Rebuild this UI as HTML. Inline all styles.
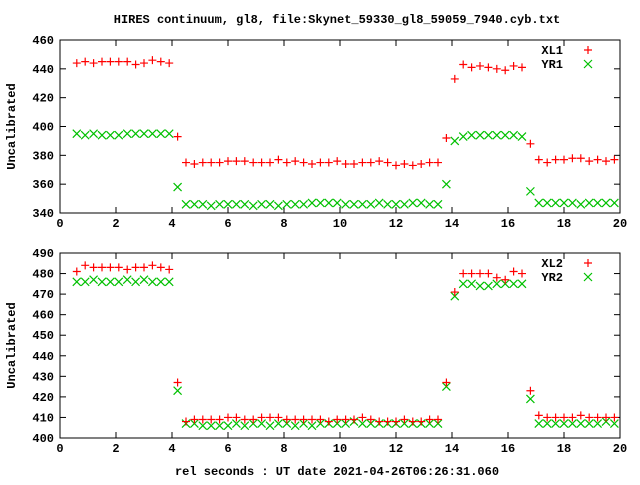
<!DOCTYPE html>
<html><head><meta charset="utf-8"><style>
body{margin:0;background:#fff}
svg text{font-family:"Liberation Mono","DejaVu Sans Mono",monospace;font-size:12px;font-weight:bold;fill:#000}
</style></head><body>
<svg id="chart" width="640" height="480" xmlns="http://www.w3.org/2000/svg">
<rect width="640" height="480" fill="#fff"/>
<text x="337" y="23" text-anchor="middle">HIRES continuum, gl8, file:Skynet_59330_gl8_59059_7940.cyb.txt</text>
<text x="337" y="475" text-anchor="middle">rel seconds : UT date 2021-04-26T06:26:31.060</text>
<g id="plots"></g>
</svg>
<script>
const xTicks=[0,2,4,6,8,10,12,14,16,18,20];
const topTicks=[340,360,380,400,420,440,460];
const botTicks=[400,410,420,430,440,450,460,470,480,490];
const xStart=0.6, xStep=0.3;
const xl1=[444,445,444,445,445,445,445,443,444,446,445,444,393,
375,374,375,375,375,376,376,376,375,375,375,377,375,376,375,374,375,375,376,374,374,375,375,376,375,373,374,373,374,375,375,
392,433,443,441,442,441,440,439,442,441,388,377,375,377,377,378,378,376,377,376,377];
const yr1=[395,394,395,394,394,394,395,395,395,395,395,395,358,
346,346,346,345,346,346,346,346,345,346,346,345,346,346,346,347,347,347,347,346,346,346,346,347,346,346,346,347,347,346,346,
360,390,393,394,394,394,394,394,394,393,355,347,347,347,347,347,346,347,347,347,347];
const xl2=[481,484,483,483,483,483,482,483,483,484,483,482,427,
408,409,409,409,409,410,410,409,409,410,410,410,409,409,409,409,409,408,409,409,409,410,409,408,408,408,409,408,408,409,409,
427,471,480,480,480,480,478,477,481,480,423,411,410,410,410,410,411,410,410,410,410];
const yr2=[476,476,477,476,476,476,477,476,477,476,476,476,423,
407,407,406,406,406,406,407,406,407,407,406,407,407,406,407,406,407,407,407,407,408,407,407,407,407,407,407,407,407,407,407,
425,469,475,475,474,474,475,475,475,475,419,407,407,407,407,407,407,407,407,408,407];

const NS="http://www.w3.org/2000/svg";
const root=document.getElementById('plots');
function mk(tag,attrs,parent){const e=document.createElementNS(NS,tag);for(const k in attrs)e.setAttribute(k,attrs[k]);parent.appendChild(e);return e;}
function panel(name,top,bot,ymin,ymax,ticks,s1,s2,n1,n2){
  const L=60,R=620;
  const g=mk('g',{},root);
  
  
  const sx=v=>L+(v-0)/(20-0)*(R-L);
  const sy=v=>bot-(v-ymin)/(ymax-ymin)*(bot-top);
  const frame=mk('rect',{x:L,y:top,width:R-L,height:bot-top,fill:'none',stroke:'#000','stroke-width':1},g);
  
  
  xTicks.forEach(t=>{
    const x=sx(t);
    mk('line',{x1:x,y1:bot,x2:x,y2:bot-6,stroke:'#000'},g);
    mk('line',{x1:x,y1:top,x2:x,y2:top+6,stroke:'#000'},g);
    const tx=mk('text',{x:x,y:bot+14,'text-anchor':'middle'},g);
    tx.textContent=t;
    
    
  });
  ticks.forEach(t=>{
    const y=sy(t);
    mk('line',{x1:L,y1:y,x2:L+6,y2:y,stroke:'#000'},g);
    mk('line',{x1:R,y1:y,x2:R-6,y2:y,stroke:'#000'},g);
    const ty=mk('text',{x:L-6,y:y+4,'text-anchor':'end'},g);
    ty.textContent=t;
    
    
  });
  const yl=mk('text',{x:0,y:0,'text-anchor':'middle',transform:`translate(15,${(top+bot)/2}) rotate(-90)`},g);
  yl.textContent='Uncalibrated';
  
  
  function plus(x,y,p){mk('path',{d:`M${x-4},${y}H${x+4}M${x},${y-4}V${y+4}`,stroke:'#ff0000','stroke-width':1.2,fill:'none'},p);}
  function cross(x,y,p){mk('path',{d:`M${x-4},${y-4}L${x+4},${y+4}M${x-4},${y+4}L${x+4},${y-4}`,stroke:'#00c000','stroke-width':1.2,fill:'none'},p);}
  const g2=mk('g',{},g);
  
  
  s2.forEach((v,i)=>cross(sx(xStart+xStep*i),sy(v),g2));
  const g1=mk('g',{},g);
  
  
  s1.forEach((v,i)=>plus(sx(xStart+xStep*i),sy(v),g1));
  const lg=mk('g',{},g);
  
  
  const t1=mk('text',{x:563,y:top+14,'text-anchor':'end'},lg);t1.textContent=n1;
  
  
  plus(588,top+10,lg);
  const t2=mk('text',{x:563,y:top+28,'text-anchor':'end'},lg);t2.textContent=n2;
  
  
  cross(588,top+24,lg);
}
panel('top-panel',40,213,340,460,topTicks,xl1,yr1,'XL1','YR1');
panel('bottom-panel',253,438,400,490,botTicks,xl2,yr2,'XL2','YR2');
</script>
</body></html>
